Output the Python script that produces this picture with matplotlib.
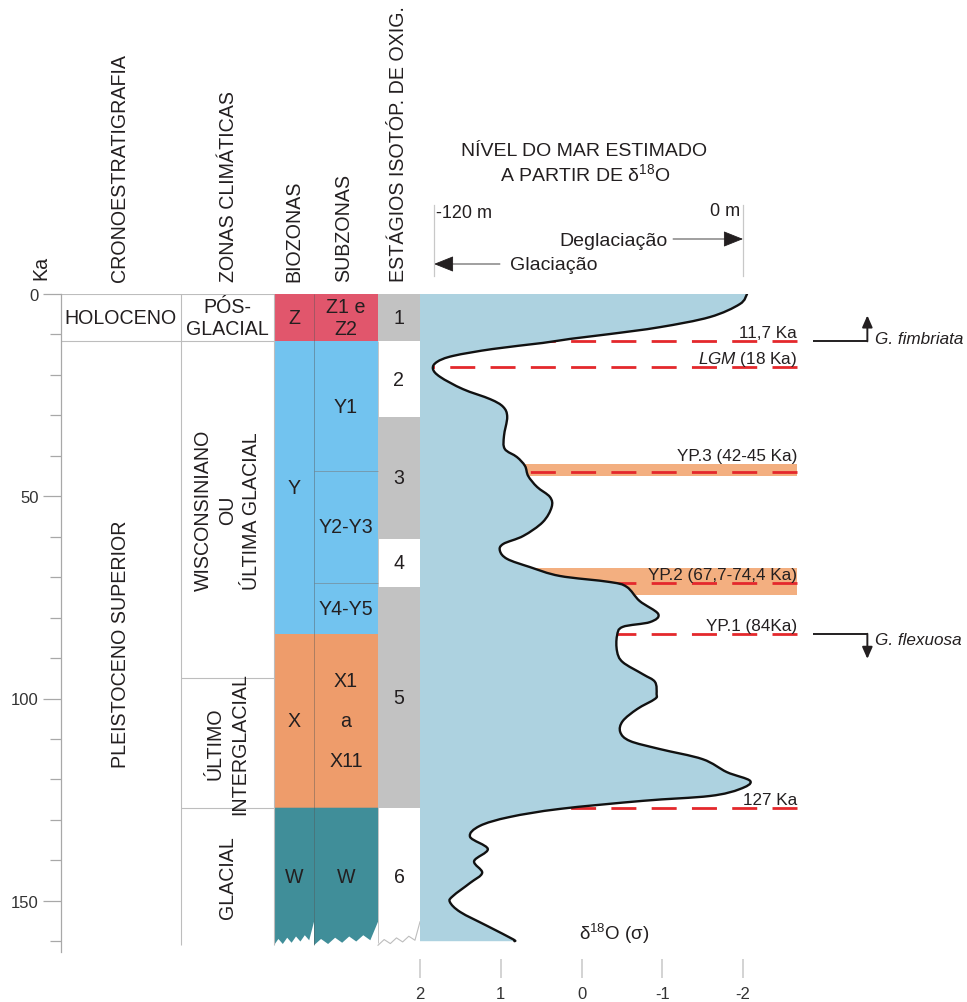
import numpy as np
import matplotlib
matplotlib.use('Agg')
import matplotlib.pyplot as plt
from matplotlib.patches import Rectangle, Polygon, PathPatch
from matplotlib.path import Path

plt.rcParams['font.family'] = ['Liberation Sans', 'DejaVu Sans']
plt.rcParams['mathtext.fontset'] = 'custom'
plt.rcParams['mathtext.rm'] = 'Liberation Sans'
plt.rcParams['mathtext.it'] = 'Liberation Sans:italic'
plt.rcParams['lines.scale_dashes'] = False

# ---- dados (Ka) ----
ka = [0, 2.5, 5.7, 8.2, 9.9, 11.1, 12.1, 13.6, 15.3, 16.8, 18.5, 20.5, 23.5, 26.0,
      27.9, 30.4, 35.1, 38.3, 40.3, 42.5, 45.0, 47.7, 50.2, 52.7, 56.4, 59.8, 61.8,
      63.5, 65.5, 67.5, 69.7, 71.2, 72.4, 75.9, 79.1, 81.1, 82.3, 84.5, 88.3, 91.0,
      94.0, 95.9, 98.9, 100.1, 102.6, 105.6, 108.3, 110.5, 112.5, 115.0, 118.2, 120.4,
      122.4, 124.1, 125.3, 127.3, 129.3, 131.5, 134.2, 137.2, 140.2, 143.1, 145.6,
      148.8, 150.3, 152.8, 156.2, 159.5, 160.0]
d18o = [-2.05, -1.96, -1.59, -0.97, -0.35, 0.14, 0.48, 1.10, 1.59, 1.79, 1.84, 1.75,
        1.47, 1.13, 0.97, 0.92, 0.96, 0.95, 0.80, 0.70, 0.66, 0.55, 0.39, 0.37, 0.48,
        0.72, 0.97, 1.01, 0.92, 0.64, 0.27, -0.35, -0.56, -0.72, -0.95, -0.85, -0.51,
        -0.44, -0.44, -0.51, -0.76, -0.91, -0.93, -0.91, -0.69, -0.51, -0.48, -0.60,
        -0.97, -1.50, -1.80, -2.09, -1.96, -1.59, -0.76, 0.27, 0.89, 1.26, 1.38, 1.16,
        1.33, 1.23, 1.38, 1.59, 1.63, 1.50, 1.17, 0.85, 0.83]

crono_labels = ['HOLOCENO', 'PLEISTOCENO SUPERIOR']
crono_lims = [0, 11.7, 161]
zonas_labels = ['PÓS-\nGLACIAL', 'WISCONSINIANO\nOU\nÚLTIMA GLACIAL',
                'ÚLTIMO\nINTERGLACIAL', 'GLACIAL']
zonas_lims = [0, 11.7, 95, 127, 161]
bio_labels = ['Z', 'Y', 'X', 'W']
bio_lims = [0, 11.7, 84, 127, 161]
sub_labels = ['Z1 e\nZ2', 'Y1', 'Y2-Y3', 'Y4-Y5', 'X1\na\nX11', 'W']
sub_lims = [0, 11.7, 43.8, 71.4, 84, 127, 161]
mis_labels = ['1', '2', '3', '4', '5', '6']
mis_lims = [0, 11.7, 30.4, 60.5, 72.4, 127, 161]

eventos_ka = [11.7, 18, 44, 71.4, 84, 127]
eventos_txt = ['11,7 Ka', r'$\mathit{LGM}$ (18 Ka)', 'YP.3 (42-45 Ka)',
               'YP.2 (67,7-74,4 Ka)', 'YP.1 (84Ka)', '127 Ka']
eventos_txt_ka = [11.7, 18, 42, 71.4, 84, 127]
faixas = [(42, 45), (67.7, 74.4)]
d18o_ticks = [2, 1, 0, -1, -2]

# ---- estilo ----
VERM, AZUL, LARANJA, TEAL = '#E1566C', '#72C3EF', '#EE9C6B', '#408E99'
CINZA, BRANCO = '#C2C2C2', 'white'
bio_cores = [VERM, AZUL, LARANJA, TEAL]
sub_cores = [VERM, AZUL, AZUL, AZUL, LARANJA, TEAL]
mis_cores = [CINZA, BRANCO, CINZA, BRANCO, CINZA, BRANCO]
TXT = '#231F20'
BORDA = '#BDBDBD'
FS = 14.1

W, H = 967, 1003
topo, base = 295, 960
px_ka = 4.045
ka_max = (base - topo) / px_ka

fig = plt.figure(figsize=(W / 100, H / 100), dpi=100)

# colunas (posicoes em px)
col = {'crono': (61, 181), 'zonas': (181, 274), 'bio': (274, 314),
       'sub': (314, 378), 'mis': (378, 420)}

ax_col = fig.add_axes([61 / W, 1 - base / H, (420 - 61) / W, (base - topo) / H])
ax_col.set_xlim(61, 420)
ax_col.set_ylim(ka_max, 0)
ax_col.patch.set_visible(False)
for s in ['top', 'right', 'bottom']:
    ax_col.spines[s].set_visible(False)
ax_col.spines['left'].set_color('#A8A8A8')
ax_col.spines['left'].set_linewidth(0.9)
ax_col.spines['left'].set_bounds(0, 162.7)
ax_col.set_xticks([])
ax_col.set_yticks([0, 50, 100, 150])
ax_col.set_yticks(np.arange(10, 161, 10), minor=True)
ax_col.tick_params(axis='y', which='major', length=13, width=0.9, color='#A8A8A8',
                   labelsize=12, labelcolor='#333333', pad=3)
ax_col.tick_params(axis='y', which='minor', length=8, width=0.9, color='#A8A8A8')

fundo = 161


def serrilha(x0, x1, dentes, amp=1.4):
    n = 2 * dentes + 1
    xs = np.linspace(x0, x0 + 0.88 * (x1 - x0), n)
    t = (xs - x0) / (x1 - x0)
    ys = fundo - 1.4 * t - amp * (np.arange(n) % 2)
    return np.append(xs, x1), np.append(ys, fundo - 5.8)


def bloco(x0, x1, lo, hi, cor, serra=False):
    if serra:
        xs, ys = serrilha(x0, x1, 4)
        pts = [(x0, lo), (x1, lo)] + list(zip(xs[::-1], ys[::-1]))
        ax_col.add_patch(Polygon(pts, closed=True, fc=cor, ec='none', zorder=1))
    elif cor != BRANCO:
        ax_col.add_patch(Rectangle((x0, lo), x1 - x0, hi - lo, fc=cor, ec='none', zorder=1))


def rotulo(x0, x1, lo, hi, lab, rot=0, ls=1.2):
    ax_col.text((x0 + x1) / 2, (lo + hi) / 2, lab, ha='center', va='center',
                rotation=rot, fontsize=FS, color=TXT, linespacing=ls, zorder=3)


x0, x1 = col['crono']
rotulo(x0, x1, crono_lims[0], crono_lims[1], crono_labels[0])
rotulo(x0, x1, crono_lims[1], crono_lims[2], crono_labels[1], rot=90)

x0, x1 = col['zonas']
for i, lab in enumerate(zonas_labels):
    rotulo(x0, x1, zonas_lims[i], zonas_lims[i + 1], lab,
           rot=0 if i == 0 else 90, ls=1.2 if i == 0 else 1.35)

x0, x1 = col['bio']
for i, lab in enumerate(bio_labels):
    bloco(x0, x1, bio_lims[i], bio_lims[i + 1], bio_cores[i], serra=(i == 3))
    rotulo(x0, x1, bio_lims[i], bio_lims[i + 1], lab)

x0, x1 = col['sub']
for i, lab in enumerate(sub_labels):
    bloco(x0, x1, sub_lims[i], sub_lims[i + 1], sub_cores[i], serra=(i == 5))
    rotulo(x0, x1, sub_lims[i], sub_lims[i + 1], lab, ls=2.4 if i == 4 else 1.2)

x0, x1 = col['mis']
for i, lab in enumerate(mis_labels):
    bloco(x0, x1, mis_lims[i], mis_lims[i + 1], mis_cores[i])
    rotulo(x0, x1, mis_lims[i], mis_lims[i + 1], lab)
xs, ys = serrilha(x0, x1, 3, amp=1.2)
ax_col.plot(xs, ys, color=BORDA, lw=0.8, zorder=2)

# bordas
ax_col.hlines(0, 61, col['zonas'][1], color=BORDA, lw=0.8)
ax_col.hlines(crono_lims[1], 61, col['zonas'][1], color=BORDA, lw=0.8)
ax_col.hlines(zonas_lims[2:4], *col['zonas'], color=BORDA, lw=0.8)
ax_col.vlines([col['zonas'][0], col['zonas'][1]], 0, fundo, color=BORDA, lw=0.8)
ax_col.vlines(col['sub'][0], 0, fundo, color='#555555', lw=0.6, alpha=0.5, zorder=2)
ax_col.hlines(sub_lims[2:4], *col['sub'], color='#777777', lw=0.6, alpha=0.6, zorder=2)
ax_col.vlines(col['mis'][0], mis_lims[1], mis_lims[-1] - 0.5, color=BORDA, lw=0.6, zorder=0)

# ---- curva d18O ----
x_dir = 2 - (W - 420) / 80.75
ax = fig.add_axes([420 / W, 1 - base / H, (W - 420) / W, (base - topo) / H])
ax.set_xlim(2, x_dir)
ax.set_ylim(ka_max, 0)
ax.patch.set_visible(False)
for s in ax.spines.values():
    s.set_visible(False)
ax.set_yticks([])
ax.set_xticks(d18o_ticks)
ax.set_xticklabels([str(t) for t in d18o_ticks])
ax.tick_params(axis='x', length=13.7, width=1.2, color='#CCCCCC', labelsize=12,
               labelcolor='#333333', pad=6)

x_fim = 2 - 377 / 80.75
for lo, hi in faixas:
    ax.fill_between([2, x_fim], lo, hi, color='#F3AF80', lw=0, zorder=1)
for k in eventos_ka:
    ax.plot([x_fim, 1.9], [k, k], color='#E4282C', lw=2, dashes=(18, 11), zorder=2)


def caminho_suave(xs, ys):
    # curva de Catmull-Rom pelos pontos lidos, desenhada como Bezier cubica
    p = np.column_stack([xs, ys])
    verts, codes = [p[0]], [Path.MOVETO]
    for i in range(len(p) - 1):
        a = p[i - 1] if i > 0 else p[i]
        b, c = p[i], p[i + 1]
        d = p[i + 2] if i + 2 < len(p) else p[i + 1]
        verts += [b + (c - a) / 6, c - (d - b) / 6, c]
        codes += [Path.CURVE4] * 3
    return verts, codes


v, c = caminho_suave(d18o, ka)
vf = [(2, ka[0])] + v + [(2, ka[-1]), (2, ka[0])]
cf = [Path.MOVETO, Path.LINETO] + c[1:] + [Path.LINETO, Path.CLOSEPOLY]
ax.add_patch(PathPatch(Path(vf, cf), fc='#ADD2E0', ec='none', zorder=3))
ax.add_patch(PathPatch(Path(v, c), fc='none', ec='#111111', lw=1.7, zorder=4,
                       joinstyle='round', capstyle='round'))

for k, t in zip(eventos_txt_ka, eventos_txt):
    ax.annotate(t, xy=(x_fim, k), xytext=(0, 3), textcoords='offset points',
                ha='right', va='baseline', fontsize=12.3, color=TXT, zorder=5)

# marcadores de especies
gx0, gx1, gtx = -2.87, -3.54, -3.63
for k, dk, nome, dt in [(eventos_ka[0], -6.4, 'G. fimbriata', -0.7),
                        (eventos_ka[4], 6.2, 'G. flexuosa', 1.4)]:
    ax.plot([gx0, gx1], [k, k], color=TXT, lw=1.4, solid_capstyle='butt')
    ax.annotate('', xy=(gx1, k + dk), xytext=(gx1, k),
                arrowprops=dict(arrowstyle='-|>,head_length=0.5,head_width=0.22',
                                color=TXT, lw=1.4, shrinkA=0, shrinkB=0, mutation_scale=14))
    ax.text(gtx, k + dt, nome, style='italic', fontsize=12.3, color=TXT, va='center', ha='left')

ax.text(-0.41, 159.5, r'$\mathrm{\delta}^{18}$O (σ)', ha='center', va='baseline',
        fontsize=13.5, color=TXT)

# ---- cabecalhos ----
def fx(p):
    return p / W


def fy(p):
    return 1 - p / H


for cx, lab in [(120, 'CRONOESTRATIGRAFIA'), (228, 'ZONAS CLIMÁTICAS'),
                (294, 'BIOZONAS'), (344, 'SUBZONAS'), (398, 'ESTÁGIOS ISOTÓP. DE OXIG.')]:
    fig.text(fx(cx), fy(282), lab, rotation=90, ha='center', va='bottom',
             fontsize=FS, color=TXT)
fig.text(fx(41), fy(280), 'Ka', rotation=90, ha='center', va='bottom', fontsize=FS, color=TXT)

fig.text(fx(584), fy(151), 'NÍVEL DO MAR ESTIMADO', ha='center', va='center',
         fontsize=14, color=TXT)
fig.text(fx(585), fy(174), r'A PARTIR DE $\mathrm{\delta}^{18}$O', ha='center', va='center',
         fontsize=14, color=TXT)
fig.text(fx(436), fy(214), '-120 m', ha='left', va='center', fontsize=13, color=TXT)
fig.text(fx(740), fy(212), '0 m', ha='right', va='center', fontsize=13, color=TXT)
fig.text(fx(668), fy(241), 'Deglaciação', ha='right', va='center', fontsize=14, color=TXT)
fig.text(fx(510), fy(266), 'Glaciação', ha='left', va='center', fontsize=14, color=TXT)
for xl in (434, 743):
    fig.add_artist(plt.Line2D([fx(xl), fx(xl)], [fy(206), fy(277)], color='#C8C8C8', lw=0.9))
for (xa, xb, yy) in [(673, 743, 240), (500, 434, 265)]:
    ax.annotate('', xy=(xb, H - yy), xytext=(xa, H - yy), xycoords='figure pixels',
                textcoords='figure pixels', annotation_clip=False,
                arrowprops=dict(arrowstyle='-|>,head_length=0.7,head_width=0.28',
                                color=TXT, lw=0.6, shrinkA=0, shrinkB=0, mutation_scale=18))

fig.savefig('out.png', dpi=100)
